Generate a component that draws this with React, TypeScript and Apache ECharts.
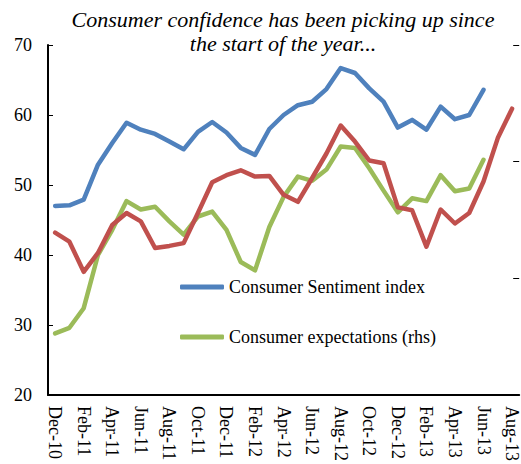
import React, { useEffect, useRef } from "react";
import * as echarts from "echarts";

const categories = [
  "Dec-10", "Jan-11", "Feb-11", "Mar-11", "Apr-11", "May-11", "Jun-11", "Jul-11", "Aug-11", "Sep-11", "Oct-11", "Nov-11",
  "Dec-11", "Jan-12", "Feb-12", "Mar-12", "Apr-12", "May-12", "Jun-12", "Jul-12", "Aug-12", "Sep-12", "Oct-12", "Nov-12",
  "Dec-12", "Jan-13", "Feb-13", "Mar-13", "Apr-13", "May-13", "Jun-13", "Jul-13", "Aug-13",
];

const sentiment = [
  47.0, 47.1, 47.9, 52.9, 56.0, 58.9, 57.9, 57.3, 56.2, 55.1, 57.6, 59.0,
  57.5, 55.3, 54.3, 58.0, 60.0, 61.4, 61.9, 63.7, 66.7, 66.0, 63.8, 61.9,
  58.2, 59.3, 57.9, 61.2, 59.4, 60.0, 63.6, null, null,
];

const expectations = [
  28.8, 29.6, 32.4, 40.0, 43.6, 47.7, 46.5, 46.9, 44.8, 42.9, 45.5, 46.2,
  43.6, 39.0, 37.8, 44.0, 48.3, 51.2, 50.6, 52.2, 55.5, 55.3, 52.4, 49.2,
  46.1, 48.1, 47.7, 51.4, 49.1, 49.5, 53.6, null, null,
];

const thirdSeries = [
  43.2, 41.9, 37.6, 40.3, 44.3, 46.0, 44.8, 41.0, 41.3, 41.7, 46.0, 50.4,
  51.4, 52.1, 51.2, 51.3, 48.6, 47.6, 51.0, 54.5, 58.5, 56.2, 53.5, 53.1,
  46.8, 46.4, 41.2, 46.5, 44.5, 46.0, 50.5, 56.7, 60.9,
];

const titleText = "Consumer confidence has been picking up since\nthe start of the year...";
const legendNames = ["Consumer Sentiment index", "Consumer expectations (rhs)"];

const FONT = "'Liberation Serif', 'Times New Roman', serif";

export default function App() {
  const ref = useRef<HTMLDivElement>(null);
  useEffect(() => {
    if (!ref.current) return;
    const chart = echarts.init(ref.current, undefined, { renderer: "svg" });
    const lineStyle = (color: string) => ({ color, width: 4.5, cap: "round", join: "round" });
    chart.setOption({
      animation: false,
      backgroundColor: "#ffffff",
      title: {
        text: titleText,
        left: 283,
        top: 7,
        padding: 0,
        textAlign: "center",
        textStyle: {
          fontFamily: FONT,
          fontStyle: "italic",
          fontWeight: "normal",
          fontSize: 22,
          lineHeight: 24,
          color: "#000",
        },
      },
      legend: {
        data: legendNames,
        orient: "vertical",
        left: 180,
        top: 278,
        padding: 0,
        itemGap: 32,
        itemWidth: 44,
        itemHeight: 5,
        icon: "roundRect",
        textStyle: { fontFamily: FONT, fontSize: 18, color: "#000" },
      },
      grid: { left: 48, top: 45, width: 475, height: 350 },
      xAxis: {
        type: "category",
        data: categories,
        boundaryGap: true,
        axisLine: { lineStyle: { color: "#000", width: 2 } },
        axisTick: { inside: true, length: 5, interval: 1, lineStyle: { color: "#000", width: 1 } },
        axisLabel: {
          interval: 1,
          rotate: -90,
          margin: 11,
          fontFamily: FONT,
          fontSize: 18,
          color: "#000",
        },
        splitLine: { show: false },
      },
      yAxis: [
        {
          type: "value",
          min: 20,
          max: 70,
          interval: 10,
          axisLine: { show: true, lineStyle: { color: "#000", width: 2 } },
          axisTick: { show: true, inside: true, length: 5, lineStyle: { color: "#000", width: 1 } },
          axisLabel: { margin: 16, fontFamily: FONT, fontSize: 18, color: "#000" },
          splitLine: { show: false },
        },
        {
          type: "value",
          min: 0,
          max: 3,
          interval: 1,
          position: "right",
          axisLine: { show: false },
          axisTick: { show: true, inside: true, length: 6, lineStyle: { color: "#000", width: 1 } },
          axisLabel: { show: false },
          splitLine: { show: false },
        },
      ],
      series: [
        {
          name: legendNames[0],
          type: "line",
          data: sentiment,
          showSymbol: false,
          symbol: "none",
          color: "#4F81BD",
          lineStyle: lineStyle("#4F81BD"),
        },
        {
          name: legendNames[1],
          type: "line",
          data: expectations,
          showSymbol: false,
          symbol: "none",
          color: "#9BBB59",
          lineStyle: lineStyle("#9BBB59"),
        },
        {
          name: "Series 3",
          type: "line",
          data: thirdSeries,
          showSymbol: false,
          symbol: "none",
          color: "#C0504D",
          lineStyle: lineStyle("#C0504D"),
        },
      ],
    });
    return () => chart.dispose();
  }, []);
  return (
    <div
      ref={ref}
      style={{ position: "fixed", left: 0, top: 0, width: 521, height: 464, overflow: "hidden" }}
    />
  );
}
